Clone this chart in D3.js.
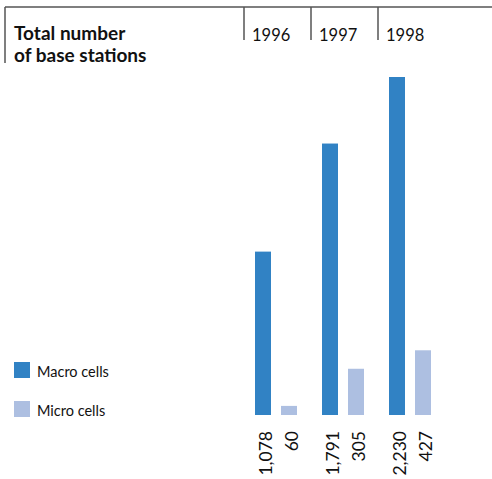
<!DOCTYPE html>
<html>
<head>
<meta charset="utf-8">
<script src="https://cdn.jsdelivr.net/npm/d3@7"></script>
<style>
  body { margin: 0; background: #fff; }
  text { font-family: Lato, "Open Sans", sans-serif; fill: #111; }
</style>
</head>
<body>
<svg id="chart" width="492" height="479"></svg>
<script>
// data
var years = ["1996", "1997", "1998"];
var series = ["macro", "micro"];
var seriesNames = ["Macro cells", "Micro cells"];
var macroCells = [1078, 1791, 2230];
var microCells = [60, 305, 427];
var valueLabels = ["1,078", "1,791", "2,230"];
var microLabels = ["60", "305", "427"];

var colors = {macro: "#3182c4", micro: "#adbfe1"};

var svg = d3.select("#chart");
var baseY = 415;

// one band per year, two bars inside
var x0 = d3.scaleBand().domain(years).range([244, 445]);
var x1 = d3.scaleBand().domain(series).range([11, 53]).paddingInner(0.3846);
var y = d3.scaleLinear().domain([0, 2230]).range([baseY, 77]);

var rows = years.map(function (yr, i) {
    return [
        {year: yr, key: "macro", v: macroCells[i], label: valueLabels[i]},
        {year: yr, key: "micro", v: microCells[i], label: microLabels[i]}
    ];
});

// frame lines at the top
var lineColor = "#555";
svg.append("line")
    .attr("x1", 5).attr("x2", 492)
    .attr("y1", 7).attr("y2", 7)
    .style("stroke", lineColor).style("stroke-width", 1.5);
svg.append("line")
    .attr("x1", 5).attr("x2", 5)
    .attr("y1", 7).attr("y2", 63)
    .style("stroke", lineColor).style("stroke-width", 1.5);

svg.selectAll(".yearline")
    .data(years)
    .enter().append("line")
    .attr("class", "yearline")
    .attr("x1", d => x0(d)).attr("x2", d => x0(d))
    .attr("y1", 7).attr("y2", 40)
    .style("stroke", lineColor).style("stroke-width", 1.5);

svg.selectAll(".yearlabel")
    .data(years)
    .enter().append("text")
    .attr("class", "yearlabel")
    .attr("x", d => x0(d) + 8)
    .attr("y", 41)
    .style("font-size", "16.5px")
    .text(d => d);

// title
var title = svg.append("text")
    .attr("x", 14)
    .style("font-size", "19px")
    .style("font-weight", "bold");
title.append("tspan").attr("x", 14).attr("y", 40).text("Total number");
title.append("tspan").attr("x", 14).attr("y", 62).text("of base stations");

// bars
var groups = svg.selectAll(".grp")
    .data(rows)
    .enter().append("g")
    .attr("class", "grp")
    .attr("transform", d => "translate(" + x0(d[0].year) + ",0)");

groups.selectAll("rect")
    .data(d => d)
    .enter().append("rect")
    .attr("x", d => x1(d.key))
    .attr("y", d => y(d.v))
    .attr("width", x1.bandwidth())
    .attr("height", d => baseY - y(d.v))
    .style("fill", d => colors[d.key]);

groups.selectAll(".val")
    .data(d => d)
    .enter().append("text")
    .attr("class", "val")
    .attr("transform", d => "translate(" + (x1(d.key) + x1.bandwidth() + 1) + "," + 431 + ") rotate(-90)")
    .attr("text-anchor", "end")
    .style("font-size", "17.5px")
    .text(d => d.label);

// legend
var legend = svg.selectAll(".leg")
    .data(series)
    .enter().append("g")
    .attr("class", "leg")
    .attr("transform", (d, i) => "translate(14," + (362 + i * 39) + ")");

legend.append("rect")
    .attr("width", 16).attr("height", 16)
    .style("fill", d => colors[d]);

legend.append("text")
    .attr("x", 23)
    .attr("y", 15)
    .style("font-size", "14.5px")
    .text((d, i) => seriesNames[i]);
</script>
</body>
</html>
